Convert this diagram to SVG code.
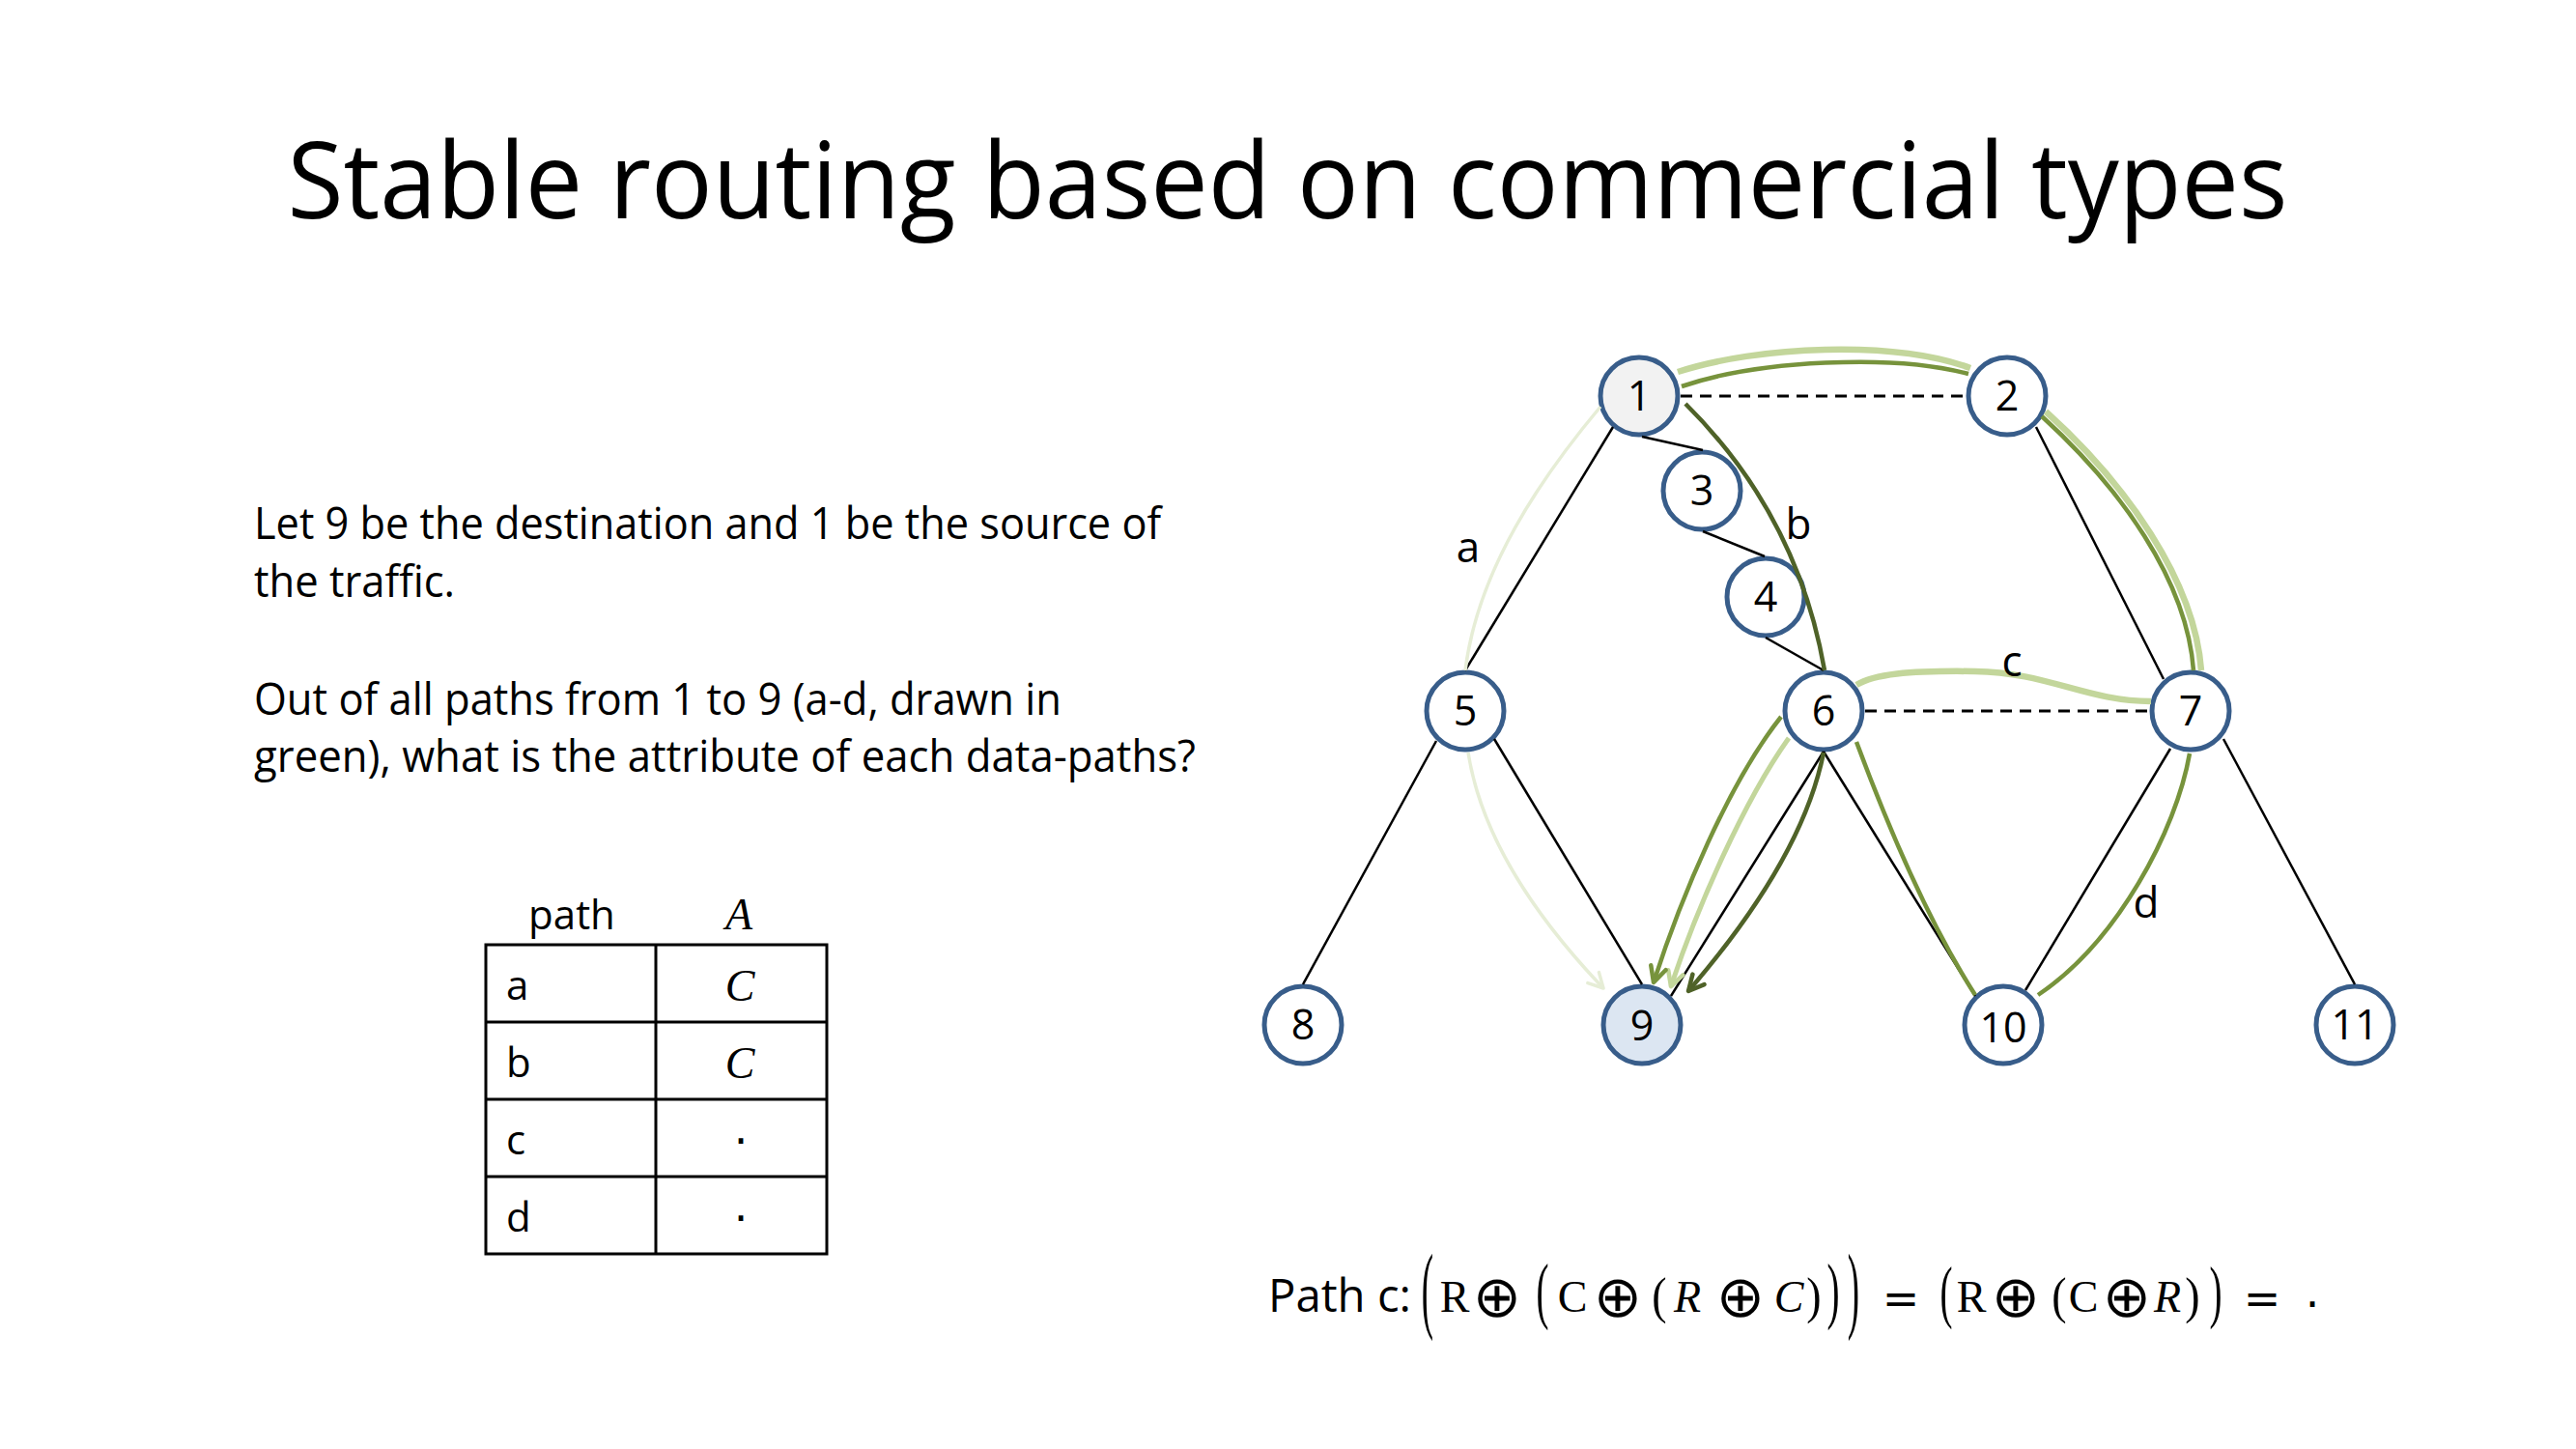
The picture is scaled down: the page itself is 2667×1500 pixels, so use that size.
<svg xmlns="http://www.w3.org/2000/svg" width="2667" height="1500" viewBox="0 0 2667 1500">
<style>
.sans{font-family:"Open Sans","Noto Sans",sans-serif;fill:#000}
.num{font-family:"Open Sans","Noto Sans",sans-serif;font-size:43px;text-anchor:middle;fill:#000}
.lbl{font-family:"Open Sans","Noto Sans",sans-serif;font-size:44px;text-anchor:middle;fill:#000}
.node{fill:#ffffff;stroke:#385D8A;stroke-width:5}
.edge{stroke:#000;stroke-width:2.5;fill:none}
.dash{stroke:#000;stroke-width:3;fill:none;stroke-dasharray:12 8}
.pa{stroke:#E6EDD6;stroke-width:3.5;fill:none}
.pb{stroke:#4F6228;stroke-width:4.5;fill:none}
.pc{stroke:#C3D69B;stroke-width:6.5;fill:none}
.pd{stroke:#77933C;stroke-width:4.5;fill:none}
.ser{font-family:"Liberation Serif","DejaVu Serif",serif;font-size:46px;text-anchor:middle;fill:#000}
.it{font-style:italic}
.op{font-family:"DejaVu Sans",sans-serif;font-size:46px;text-anchor:middle;fill:#000}
.oplus{font-family:"DejaVu Sans",sans-serif;font-size:60px;text-anchor:middle;fill:#000}
.cell{fill:none;stroke:#000;stroke-width:3}
</style>
<defs>
<marker id="arrA" markerUnits="userSpaceOnUse" markerWidth="40" markerHeight="40" viewBox="-20 -20 40 40" refX="0" refY="0" orient="auto"><path d="M-15,-8 L0,0 L-15,8" fill="none" stroke="#E6EDD6" stroke-width="3.5" stroke-linecap="round" stroke-linejoin="round"/></marker>
<marker id="arrB" markerUnits="userSpaceOnUse" markerWidth="40" markerHeight="40" viewBox="-20 -20 40 40" refX="0" refY="0" orient="auto"><path d="M-16,-8 L0,0 L-16,8" fill="none" stroke="#4F6228" stroke-width="4.5" stroke-linecap="round" stroke-linejoin="round"/></marker>
<marker id="arrC" markerUnits="userSpaceOnUse" markerWidth="40" markerHeight="40" viewBox="-20 -20 40 40" refX="0" refY="0" orient="auto"><path d="M-15,-8 L0,0 L-15,8" fill="none" stroke="#C3D69B" stroke-width="4.5" stroke-linecap="round" stroke-linejoin="round"/></marker>
<marker id="arrD" markerUnits="userSpaceOnUse" markerWidth="40" markerHeight="40" viewBox="-20 -20 40 40" refX="0" refY="0" orient="auto"><path d="M-16,-8 L0,0 L-16,8" fill="none" stroke="#77933C" stroke-width="4.5" stroke-linecap="round" stroke-linejoin="round"/></marker>
</defs>
<rect width="2667" height="1500" fill="#ffffff"/>

<text class="sans" x="1333" y="226" font-size="109" text-anchor="middle" textLength="2071" lengthAdjust="spacingAndGlyphs">Stable routing based on commercial types</text>

<g id="question" class="sans" font-size="45">
<text x="263" y="558" textLength="939" lengthAdjust="spacingAndGlyphs">Let 9 be the destination and 1 be the source of</text>
<text x="263" y="618" textLength="208" lengthAdjust="spacingAndGlyphs">the traffic.</text>
<text x="263" y="740" textLength="836" lengthAdjust="spacingAndGlyphs">Out of all paths from 1 to 9 (a-d, drawn in</text>
<text x="263" y="799" textLength="975" lengthAdjust="spacingAndGlyphs">green), what is the attribute of each data-paths?</text>
</g>

<g id="table">
<text class="sans" x="592" y="962" font-size="42" text-anchor="middle">path</text>
<text class="ser it" x="765" y="962" font-size="48">A</text>
<rect class="cell" x="503" y="978" width="353" height="320"/>
<line class="cell" x1="679" y1="978" x2="679" y2="1298"/>
<line class="cell" x1="503" y1="1058" x2="856" y2="1058"/>
<line class="cell" x1="503" y1="1138" x2="856" y2="1138"/>
<line class="cell" x1="503" y1="1218" x2="856" y2="1218"/>
<text class="sans" x="524" y="1035" font-size="42">a</text>
<text class="sans" x="524" y="1115" font-size="42">b</text>
<text class="sans" x="524" y="1195" font-size="42">c</text>
<text class="sans" x="524" y="1275" font-size="42">d</text>
<text class="ser it" x="766" y="1036" font-size="48">C</text>
<text class="ser it" x="766" y="1116" font-size="48">C</text>
<text class="op" x="767" y="1197">⋅</text>
<text class="op" x="767" y="1277">⋅</text>
</g>

<g id="nodes">
<g id="node1"><circle class="node" cx="1697" cy="410" r="40" style="fill:#F2F2F2"/><text class="num" x="1697" y="425">1</text></g>
<g id="node2"><circle class="node" cx="2078" cy="410" r="40"/><text class="num" x="2078" y="425">2</text></g>
<g id="node3"><circle class="node" cx="1762" cy="508" r="40"/><text class="num" x="1762" y="523">3</text></g>
<g id="node4"><circle class="node" cx="1828" cy="618" r="40"/><text class="num" x="1828" y="633">4</text></g>
<g id="node5"><circle class="node" cx="1517" cy="736" r="40"/><text class="num" x="1517" y="751">5</text></g>
<g id="node6"><circle class="node" cx="1888" cy="736" r="40"/><text class="num" x="1888" y="751">6</text></g>
<g id="node7"><circle class="node" cx="2268" cy="736" r="40"/><text class="num" x="2268" y="751">7</text></g>
<g id="node8"><circle class="node" cx="1349" cy="1061" r="40"/><text class="num" x="1349" y="1076">8</text></g>
<g id="node9"><circle class="node" cx="1700" cy="1061" r="40" style="fill:#DCE6F2"/><text class="num" x="1700" y="1077">9</text></g>
<g id="node10"><circle class="node" cx="2074" cy="1061" r="40"/><text class="num" x="2074" y="1079">10</text></g>
<g id="node11"><circle class="node" cx="2438" cy="1061" r="40"/><text class="num" x="2438" y="1076">11</text></g>
</g>

<g id="connectors">
<g id="edges">
<line class="edge" x1="1670" y1="442" x2="1517" y2="694"/>
<line class="edge" x1="1700" y1="452" x2="1763" y2="466"/>
<line class="edge" x1="1763" y1="550" x2="1827" y2="576"/>
<line class="edge" x1="1828" y1="660" x2="1888" y2="694"/>
<line class="edge" x1="2108" y1="442" x2="2240" y2="703"/>
<line class="edge" x1="1487" y1="767" x2="1349" y2="1019"/>
<line class="edge" x1="1547" y1="765" x2="1700" y2="1019"/>
<line class="edge" x1="1888" y1="778" x2="1730" y2="1031"/>
<line class="edge" x1="1888" y1="778" x2="2045" y2="1031"/>
<line class="edge" x1="2247" y1="775" x2="2097" y2="1025"/>
<line class="edge" x1="2302" y1="765" x2="2438" y2="1019"/>
<line class="dash" x1="1740" y1="410" x2="2036" y2="410"/>
<line class="dash" x1="1931" y1="736" x2="2226" y2="736"/>
</g>
<g id="paths">
<path id="path-a" class="pa" d="M1657,421 C1595,495 1530,590 1517,694 M1520,779 C1535,875 1600,960 1660,1023" marker-end="url(#arrA)"/>
<path id="path-c" class="pc" d="M1737,385 C1820,358 1960,352 2040,381 M2118,426 C2200,500 2272,600 2279,694 M2227,726 C2160,726 2120,696 2045,695 C1975,694 1940,698 1922,709" />
<path class="pc" d="M1852,764 C1805,830 1757,940 1730,1021" style="stroke-width:5" marker-end="url(#arrC)"/>
<path id="path-d" class="pd" d="M1741,400 C1820,373 1960,366 2038,387 M2114,431 C2195,505 2264,600 2271,694 M2267,780 C2253,860 2192,975 2110,1030 M2045,1030 C2000,960 1960,870 1922,768 M1844,742 C1790,810 1740,930 1712,1017" marker-end="url(#arrD)"/>
<path id="path-b" class="pb" d="M1745,418 Q1861,533 1889,694 M1888,779 C1870,870 1805,960 1748,1026" marker-end="url(#arrB)"/>
</g>
<g id="labels">
<text class="lbl" x="1520" y="582">a</text>
<text class="lbl" x="1862" y="558">b</text>
<text class="lbl" x="2083" y="700">c</text>
<text class="lbl" x="2222" y="950">d</text>
</g>
</g>

<g id="formula">
<text class="sans" x="1313" y="1358" font-size="48" textLength="148" lengthAdjust="spacingAndGlyphs">Path c:</text>
<text class="ser" transform="translate(1478,1367) scale(0.8,2.15)">(</text>
<text class="ser" x="1506" y="1358">R</text>
<text class="oplus" x="1550" y="1363">⊕</text>
<text class="ser" transform="translate(1597,1361) scale(0.85,1.64)">(</text>
<text class="ser" x="1628" y="1358">C</text>
<text class="oplus" x="1675" y="1363">⊕</text>
<text class="ser" transform="translate(1718,1359) scale(1,1.15)">(</text>
<text class="ser it" x="1747" y="1358">R</text>
<text class="oplus" x="1802" y="1363">⊕</text>
<text class="ser it" x="1852" y="1358">C</text>
<text class="ser" transform="translate(1878,1359) scale(1,1.15)">)</text>
<text class="ser" transform="translate(1898,1361) scale(0.85,1.64)">)</text>
<text class="ser" transform="translate(1919,1367) scale(0.8,2.15)">)</text>
<text class="op" x="1968" y="1360" font-size="54">=</text>
<text class="ser" transform="translate(2015,1361) scale(0.85,1.55)">(</text>
<text class="ser" x="2041" y="1358">R</text>
<text class="oplus" x="2087" y="1363">⊕</text>
<text class="ser" transform="translate(2132,1359) scale(1,1.15)">(</text>
<text class="ser" x="2157" y="1358">C</text>
<text class="oplus" x="2202" y="1363">⊕</text>
<text class="ser it" x="2244" y="1358">R</text>
<text class="ser" transform="translate(2270,1359) scale(1,1.15)">)</text>
<text class="ser" transform="translate(2294,1361) scale(0.85,1.55)">)</text>
<text class="op" x="2342" y="1360" font-size="54">=</text>
<text class="op" x="2394" y="1366">⋅</text>
</g>
</svg>
